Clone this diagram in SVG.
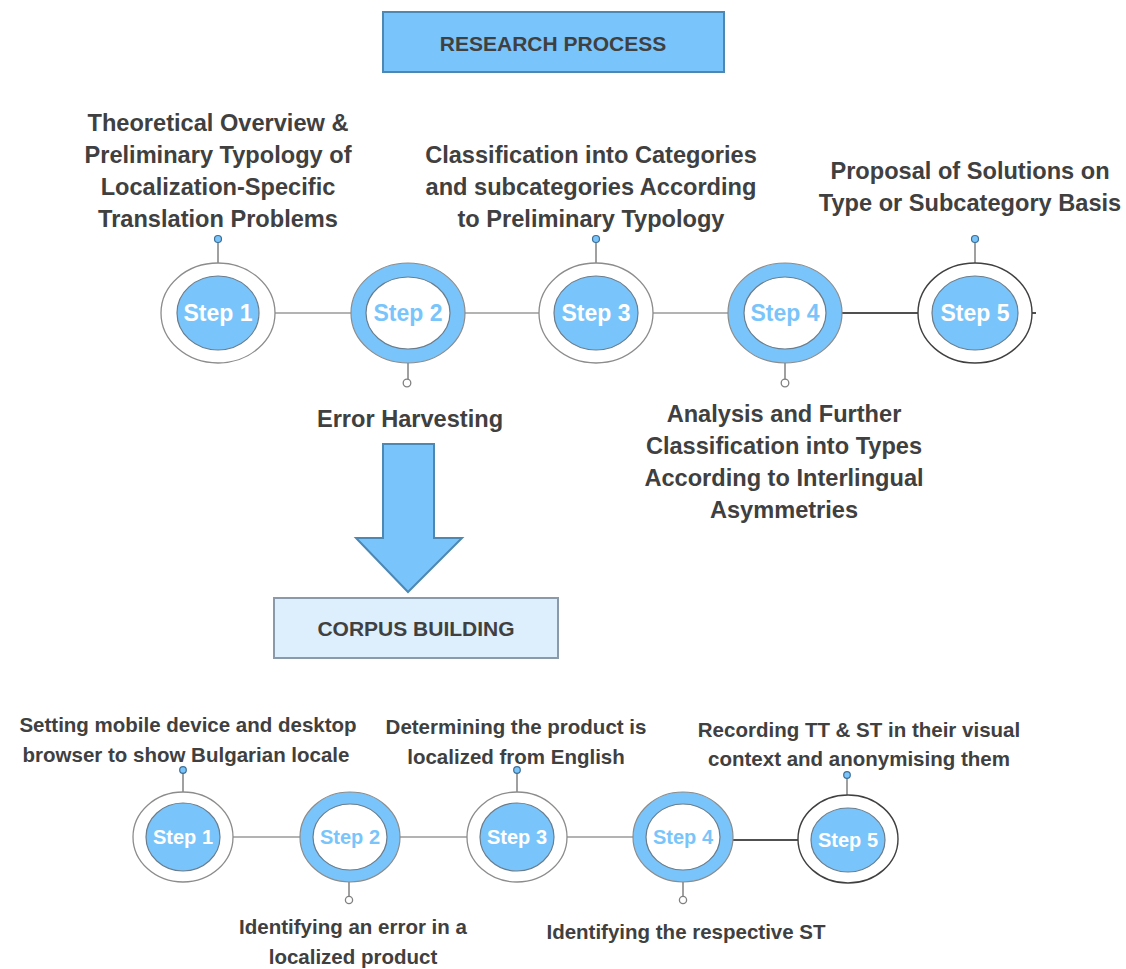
<svg xmlns="http://www.w3.org/2000/svg" width="1126" height="969" viewBox="0 0 1126 969">
  <style>
    .lbl { font-family: "Liberation Sans", Arial, sans-serif; font-weight: bold; fill: #404040; text-anchor: middle; }
    .top { font-size: 23.6px; }
    .bot { font-size: 20.5px; }
    .hdr { font-family: "Liberation Sans", Arial, sans-serif; font-weight: bold; fill: #404040; text-anchor: middle; font-size: 21px; }
    .ring { fill: #ffffff; stroke: #8c8c8c; stroke-width: 1.3; }
    .ring-dark { fill: #ffffff; stroke: #404040; stroke-width: 1.4; }
    .core { fill: #79c5fb; stroke: #6b7d8c; stroke-width: 1.2; }
    .band { fill: #79c5fb; stroke: #8c8c8c; stroke-width: 1.2; }
    .hole { fill: #ffffff; stroke: #6b7d8c; stroke-width: 1.2; }
    .step-w { font-family: "Liberation Sans", Arial, sans-serif; font-weight: bold; fill: #ffffff; text-anchor: middle; }
    .step-b { font-family: "Liberation Sans", Arial, sans-serif; font-weight: bold; fill: #79c5fb; text-anchor: middle; }
    .link { stroke: #9a9a9a; stroke-width: 1.6; fill: none; }
    .link-dark { stroke: #505050; stroke-width: 2; fill: none; }
    .stem { stroke: #808080; stroke-width: 1.5; }
    .pin { fill: #79c5fb; stroke: #3d6f96; stroke-width: 1.2; }
    .pin-open { fill: #ffffff; stroke: #808080; stroke-width: 1.3; }
  </style>

  <!-- headers -->
  <g id="research-process">
    <rect x="383" y="12" width="341" height="60" fill="#79c5fb" stroke="#4d87b3" stroke-width="2"/>
    <text class="hdr" x="553" y="51" font-size="21.5">RESEARCH PROCESS</text>
  </g>

  <g id="transition-arrow">
    <polygon points="383,444 434,444 434,538 462,538 408,592 356,538 383,538" fill="#79c5fb" stroke="#4d87b3" stroke-width="2"/>
  </g>

  <g id="corpus-building">
    <rect x="274" y="598" width="284" height="60" fill="#ddeffc" stroke="#8a9aaa" stroke-width="2"/>
    <text class="hdr" x="416" y="636" font-size="22">CORPUS BUILDING</text>
  </g>

  <!-- connectors: timelines and label pins -->
  <g id="connectors">
    <!-- research timeline -->
    <line class="link" x1="275" y1="313" x2="351" y2="313"/>
    <line class="link" x1="465" y1="313" x2="539" y2="313"/>
    <line class="link" x1="653" y1="313" x2="728" y2="313"/>
    <line class="link-dark" x1="842" y1="313" x2="918" y2="313"/>
    <line class="link-dark" x1="1032" y1="313" x2="1036" y2="313"/>
    <line class="stem" x1="218" y1="263" x2="218" y2="242"/>
    <line class="stem" x1="408" y1="363" x2="408" y2="380"/>
    <line class="stem" x1="596" y1="263" x2="596" y2="242"/>
    <line class="stem" x1="785" y1="363" x2="785" y2="380"/>
    <line class="stem" x1="975" y1="263" x2="975" y2="242"/>
    <circle class="pin" cx="218" cy="239" r="3.5"/>
    <circle class="pin-open" cx="407" cy="383" r="3.8"/>
    <circle class="pin" cx="596" cy="239" r="3.5"/>
    <circle class="pin-open" cx="785" cy="383" r="3.8"/>
    <circle class="pin" cx="975" cy="239" r="3.5"/>

    <!-- corpus timeline -->
    <line class="link" x1="233" y1="837" x2="300" y2="837"/>
    <line class="link" x1="399" y1="837" x2="467" y2="837"/>
    <line class="link" x1="567" y1="837" x2="633" y2="837"/>
    <line class="link-dark" x1="733" y1="840" x2="798" y2="840"/>
    <line class="stem" x1="183" y1="792" x2="183" y2="772"/>
    <line class="stem" x1="349" y1="882" x2="349" y2="897"/>
    <line class="stem" x1="517" y1="792" x2="517" y2="772"/>
    <line class="stem" x1="683" y1="882" x2="683" y2="897"/>
    <line class="stem" x1="847" y1="795" x2="847" y2="777"/>
    <circle class="pin" cx="183" cy="770" r="3.3"/>
    <circle class="pin-open" cx="349" cy="900" r="3.6"/>
    <circle class="pin" cx="517" cy="770" r="3.3"/>
    <circle class="pin-open" cx="683" cy="900" r="3.6"/>
    <circle class="pin" cx="847" cy="775" r="3.3"/>
  </g>

  <!-- research process steps -->
  <g id="r-step1">
    <ellipse class="ring" cx="218" cy="313" rx="57" ry="50"/>
    <ellipse class="core" cx="218" cy="313" rx="41" ry="37"/>
    <text class="step-w" x="218" y="321" font-size="23">Step 1</text>
  </g>
  <g id="r-step2">
    <ellipse class="band" cx="408" cy="313" rx="57" ry="50"/>
    <ellipse class="hole" cx="408" cy="313" rx="42" ry="36"/>
    <text class="step-b" x="408" y="321" font-size="23">Step 2</text>
  </g>
  <g id="r-step3">
    <ellipse class="ring" cx="596" cy="313" rx="57" ry="50"/>
    <ellipse class="core" cx="596" cy="313" rx="42" ry="37"/>
    <text class="step-w" x="596" y="321" font-size="23">Step 3</text>
  </g>
  <g id="r-step4">
    <ellipse class="band" cx="785" cy="313" rx="57" ry="50"/>
    <ellipse class="hole" cx="785" cy="313" rx="41" ry="36"/>
    <text class="step-b" x="785" y="321" font-size="23">Step 4</text>
  </g>
  <g id="r-step5">
    <ellipse class="ring-dark" cx="975" cy="313" rx="57" ry="50"/>
    <ellipse class="core" cx="975" cy="313" rx="43" ry="37" stroke="#404040"/>
    <text class="step-w" x="975" y="321" font-size="23">Step 5</text>
  </g>

  <!-- research process labels -->
  <g id="r-label1">
    <text class="lbl top" x="218" y="131">Theoretical Overview &amp;</text>
    <text class="lbl top" x="218" y="163">Preliminary Typology of</text>
    <text class="lbl top" x="218" y="195">Localization-Specific</text>
    <text class="lbl top" x="218" y="227">Translation Problems</text>
  </g>
  <g id="r-label2">
    <text class="lbl top" x="410" y="427">Error Harvesting</text>
  </g>
  <g id="r-label3">
    <text class="lbl top" x="591" y="163">Classification into Categories</text>
    <text class="lbl top" x="591" y="195">and subcategories According</text>
    <text class="lbl top" x="591" y="227">to Preliminary Typology</text>
  </g>
  <g id="r-label4">
    <text class="lbl top" x="784" y="422">Analysis and Further</text>
    <text class="lbl top" x="784" y="454">Classification into Types</text>
    <text class="lbl top" x="784" y="486">According to Interlingual</text>
    <text class="lbl top" x="784" y="518">Asymmetries</text>
  </g>
  <g id="r-label5">
    <text class="lbl top" x="970" y="179">Proposal of Solutions on</text>
    <text class="lbl top" x="970" y="211">Type or Subcategory Basis</text>
  </g>

  <!-- corpus building steps -->
  <g id="c-step1">
    <ellipse class="ring" cx="183" cy="837" rx="50" ry="45"/>
    <ellipse class="core" cx="183" cy="837" rx="37" ry="34"/>
    <text class="step-w" x="183" y="844" font-size="20">Step 1</text>
  </g>
  <g id="c-step2">
    <ellipse class="band" cx="350" cy="837" rx="50" ry="45"/>
    <ellipse class="hole" cx="350" cy="837" rx="37" ry="33"/>
    <text class="step-b" x="350" y="844" font-size="20">Step 2</text>
  </g>
  <g id="c-step3">
    <ellipse class="ring" cx="517" cy="837" rx="50" ry="45"/>
    <ellipse class="core" cx="517" cy="837" rx="37" ry="34"/>
    <text class="step-w" x="517" y="844" font-size="20">Step 3</text>
  </g>
  <g id="c-step4">
    <ellipse class="band" cx="683" cy="837" rx="50" ry="45"/>
    <ellipse class="hole" cx="683" cy="837" rx="37" ry="33"/>
    <text class="step-b" x="683" y="844" font-size="20">Step 4</text>
  </g>
  <g id="c-step5">
    <ellipse class="ring-dark" cx="848" cy="839" rx="50" ry="44"/>
    <ellipse class="core" cx="848" cy="840" rx="37" ry="32" stroke="#404040"/>
    <text class="step-w" x="848" y="847" font-size="20">Step 5</text>
  </g>

  <!-- corpus building labels -->
  <g id="c-label1">
    <text class="lbl bot" x="188" y="732">Setting mobile device and desktop</text>
    <text class="lbl bot" x="186" y="762">browser to show Bulgarian locale</text>
  </g>
  <g id="c-label2">
    <text class="lbl bot" x="353" y="934">Identifying an error in a</text>
    <text class="lbl bot" x="353" y="964">localized product</text>
  </g>
  <g id="c-label3">
    <text class="lbl bot" x="516" y="734">Determining the product is</text>
    <text class="lbl bot" x="516" y="764">localized from English</text>
  </g>
  <g id="c-label4">
    <text class="lbl bot" x="686" y="939">Identifying the respective ST</text>
  </g>
  <g id="c-label5">
    <text class="lbl bot" x="859" y="737">Recording TT &amp; ST in their visual</text>
    <text class="lbl bot" x="859" y="766">context and anonymising them</text>
  </g>
</svg>
